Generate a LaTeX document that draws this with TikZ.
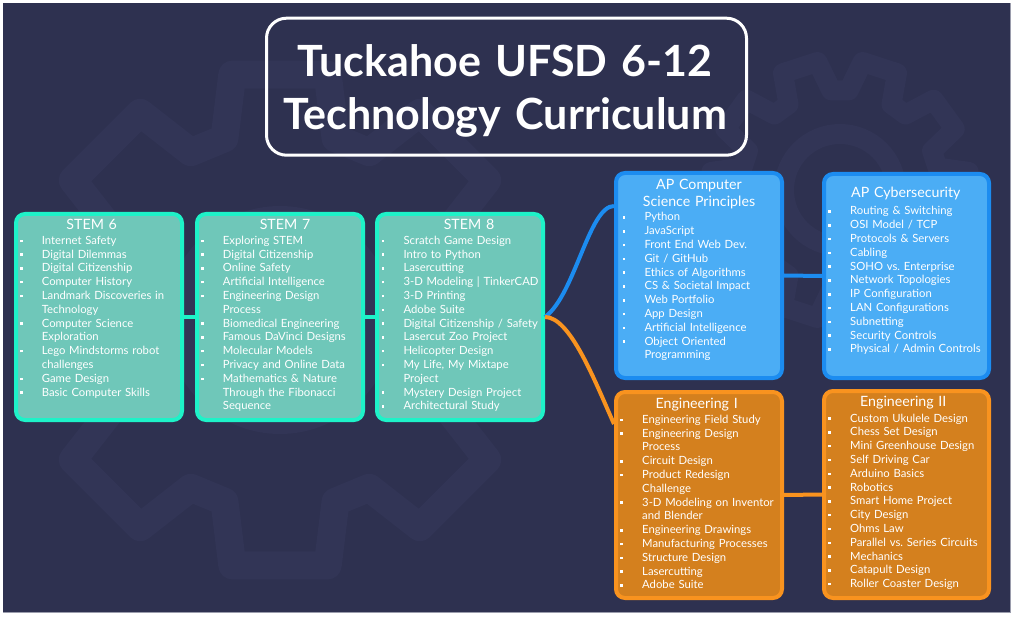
\documentclass[tikz,border=0pt]{standalone}
\usepackage{fontspec}
\setmainfont{Lato}
\usetikzlibrary{calc}
\definecolor{bg}{HTML}{2E3150}
\definecolor{gearc}{HTML}{323556}
\definecolor{tealS}{HTML}{1EF2C8}
\definecolor{tealF}{HTML}{6FC7B9}
\definecolor{blueS}{HTML}{1C8CF0}
\definecolor{blueF}{HTML}{4BADF5}
\definecolor{orS}{HTML}{F9931F}
\definecolor{orF}{HTML}{D4801E}
\definecolor{edgec}{HTML}{9A9CAC}
\newlength\hi \setlength\hi{22pt}
\newcommand\itm[1]{\noindent\hangindent=\hi\hangafter=1\makebox[\hi][l]{\hspace{0.2pt}\raisebox{2.2pt}{\rule{2.5pt}{2.5pt}}}#1\par}
\frenchspacing
\begin{document}
\begin{tikzpicture}[x=1pt,y=-1pt,
  box/.style={draw, line width=4pt, rounded corners=9pt, anchor=north west, inner sep=0pt, minimum width=166pt, minimum height=206pt},
  stembox/.style={box, draw=tealS, fill=tealF},
  apbox/.style={box, draw=blueS, fill=blueF},
  engbox/.style={box, draw=orS, fill=orF},
  ttl/.style={anchor=base, text=white, inner sep=0pt, text width=166pt, align=center, font=\fontsize{14.2}{16.5}\selectfont},
  body/.style={anchor=base west, text=white, inner sep=0pt, text width=200pt, align=left, font=\fontsize{11.3}{13.8}\selectfont},
  conn/.style={line width=4pt},
  gearline/.style={draw=gearc, line join=round, line cap=round}
]
\useasboundingbox (0,0) rectangle (1014,617);
\fill[white] (0,0) rectangle (1014,617);
\fill[bg] (3,3) rectangle (1010,612);
\draw[edgec, line width=1pt] (3,612) -- (1010,612) -- (1010,3);

% background gears
\begin{scope}[shift={(280,320)}]
  \draw[gearline, line width=28pt] (-17:190) \foreach \k in {0,...,7}{ -- ({\k*45-17}:190) -- ({\k*45-11}:250) -- ({\k*45+11}:250) -- ({\k*45+17}:190) } -- cycle;
  \draw[gearline, line width=28pt] (0,0) circle (100);
\end{scope}
\begin{scope}[shift={(840,190)}]
  \draw[gearline, line width=20pt] (-13:100) \foreach \k in {0,...,9}{ -- ({\k*36-13}:100) -- ({\k*36-8}:130) -- ({\k*36+8}:130) -- ({\k*36+13}:100) } -- cycle;
  \draw[gearline, line width=20pt] (0,0) circle (56);
\end{scope}

% title
\node[draw=white, line width=3pt, rounded corners=20pt, minimum width=480pt, minimum height=137pt, inner sep=0pt] (tbox) at (506.5,86.7) {};
\node[anchor=base, text=white, inner sep=0pt, text width=480pt, align=center, font=\fontsize{43}{53.3}\bfseries\selectfont] (title) at (505,76.7) {Tuckahoe UFSD 6-12\\Technology Curriculum};

% boxes
\node[stembox] (s6) at (14,212) {};
\node[stembox] (s7) at (195,212) {};
\node[stembox] (s8) at (375,212) {};
\node[apbox, minimum height=205pt] (csp) at (614,171) {};
\node[apbox, minimum width=165pt, minimum height=204pt] (cyb) at (822,172) {};
\node[engbox] (en1) at (614,390) {};
\node[engbox, minimum width=165pt, minimum height=207pt] (en2) at (822,389) {};

% connectors
\draw[conn, tealS] (s6.east) -- (s7.west);
\draw[conn, tealS] (s7.east) -- (s8.west);
\draw[conn, blueS] (s8.east) .. controls +(30,-22) and +(-25,0) .. ($(csp.north west)+(0,35)$);
\draw[conn, orS] (s8.east) .. controls +(25,0) and +(-20,-45) .. ($(en1.north west)+(0,34)$);
\draw[conn, blueS] (csp.east) -- (cyb.west);
\draw[conn, orS] (en1.east) -- (en2.west);

% headings
\node[ttl] (s6h) at (91.7,230) {STEM 6};
\node[ttl] (s7h) at (285,230) {STEM 7};
\node[ttl] (s8h) at (469,229.3) {STEM 8};
\node[ttl] (csph) at (699,190) {AP Computer\\Science Principles};
\node[ttl] (cybh) at (905.8,197.5) {AP Cybersecurity};
\node[ttl] (en1h) at (696.7,408) {Engineering I};
\node[ttl] (en2h) at (903.3,406.5) {Engineering II};

% lists
\node[body] (s6b) at (19.7,244.3) {%
\itm{Internet Safety}
\itm{Digital Dilemmas}
\itm{Digital Citizenship}
\itm{Computer History}
\itm{Landmark Discoveries in\newline Technology}
\itm{Computer Science\newline Exploration}
\itm{Lego Mindstorms robot\newline challenges}
\itm{Game Design}
\itm{Basic Computer Skills}};

\node[body] (s7b) at (200.7,244.3) {%
\itm{Exploring STEM}
\itm{Digital Citizenship}
\itm{Online Safety}
\itm{Artificial Intelligence}
\itm{Engineering Design\newline Process}
\itm{Biomedical Engineering}
\itm{Famous DaVinci Designs}
\itm{Molecular Models}
\itm{Privacy and Online Data}
\itm{Mathematics \& Nature\newline Through the Fibonacci\newline Sequence}};

\node[body] (s8b) at (381.3,244.3) {%
\itm{Scratch Game Design}
\itm{Intro to Python}
\itm{Lasercutting}
\itm{3-D Modeling | TinkerCAD}
\itm{3-D Printing}
\itm{Adobe Suite}
\itm{Digital Citizenship / Safety}
\itm{Lasercut Zoo Project}
\itm{Helicopter Design}
\itm{My Life, My Mixtape\newline Project}
\itm{Mystery Design Project}
\itm{Architectural Study}};

\node[body] (cspb) at (622.3,221) {%
\itm{Python}
\itm{JavaScript}
\itm{Front End Web Dev.}
\itm{Git / GitHub}
\itm{Ethics of Algorithms}
\itm{CS \& Societal Impact}
\itm{Web Portfolio}
\itm{App Design}
\itm{Artificial Intelligence}
\itm{Object Oriented\newline Programming}};

\node[body] (cybb) at (828,215) {%
\itm{Routing \& Switching}
\itm{OSI Model / TCP}
\itm{Protocols \& Servers}
\itm{Cabling}
\itm{SOHO vs. Enterprise}
\itm{Network Topologies}
\itm{IP Configuration}
\itm{LAN Configurations}
\itm{Subnetting}
\itm{Security Controls}
\itm{Physical / Admin Controls}};

\node[body] (en1b) at (620,423.3) {%
\itm{Engineering Field Study}
\itm{Engineering Design\newline Process}
\itm{Circuit Design}
\itm{Product Redesign\newline Challenge}
\itm{3-D Modeling on Inventor\newline and Blender}
\itm{Engineering Drawings}
\itm{Manufacturing Processes}
\itm{Structure Design}
\itm{Lasercutting}
\itm{Adobe Suite}};

\node[body] (en2b) at (828,422) {%
\itm{Custom Ukulele Design}
\itm{Chess Set Design}
\itm{Mini Greenhouse Design}
\itm{Self Driving Car}
\itm{Arduino Basics}
\itm{Robotics}
\itm{Smart Home Project}
\itm{City Design}
\itm{Ohms Law}
\itm{Parallel vs. Series Circuits}
\itm{Mechanics}
\itm{Catapult Design}
\itm{Roller Coaster Design}};
\end{tikzpicture}
\end{document}
